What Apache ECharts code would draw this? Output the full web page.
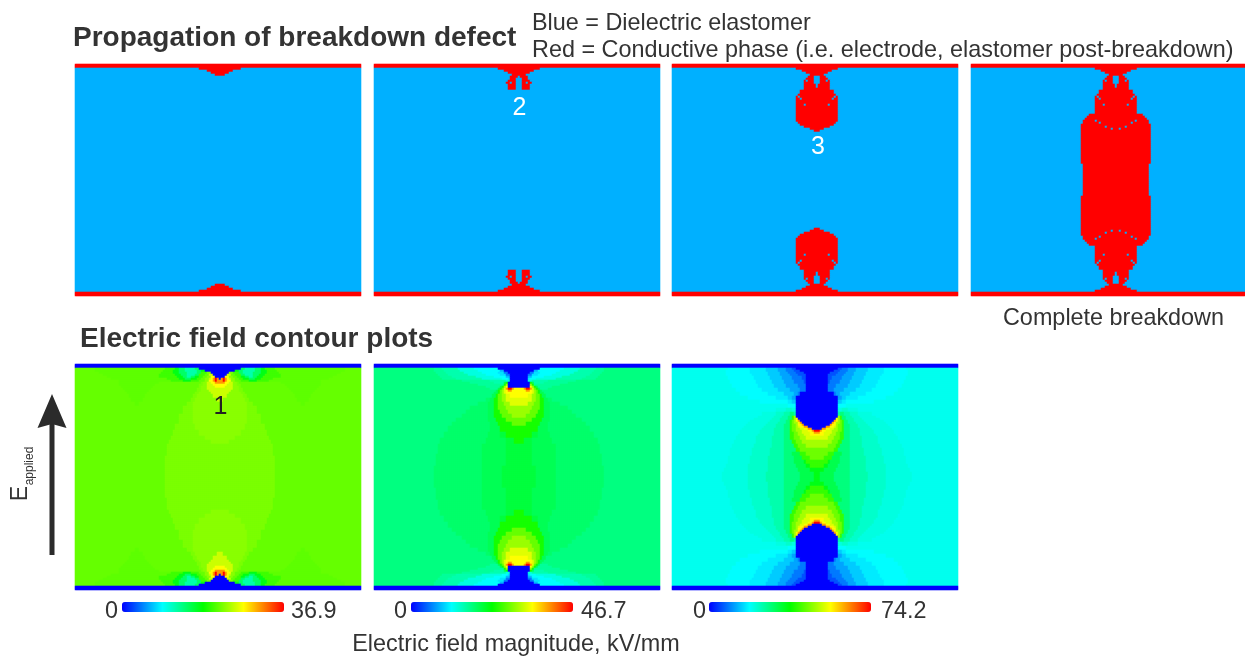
<!DOCTYPE html>
<html><head><meta charset="utf-8">
<style>html,body{margin:0;padding:0;background:#fff}#c{width:1245px;height:657px}</style>
<script src="https://cdn.jsdelivr.net/npm/echarts@6/dist/echarts.min.js"></script>
</head><body><div id="c"></div>
<script>
// ---------- Conductive-phase maps: one half row = [repeat, [fromCell,toCell], ...], cells counted out from the defect axis
const stage1Rows = [[2,[0,99]],[1,[0,10]],[1,[0,6]],[1,[0,4]],[1,[0,2]]];
const stage2Rows = [[2,[0,99]],[1,[0,10]],[1,[0,7]],[1,[0,5]],[1,[0,3]],[1,[1,4]],[1,[2,4]],[1,[2,5]],[1,[2,3],[5,6]],[3,[2,5]]];
const stage3Rows = [[2,[0,99]],[1,[0,10]],[1,[0,7]],[1,[0,5]],[1,[0,3]],[1,[2,4]],[1,[2,5]],[1,[2,4],[6,6]],[1,[2,6]],[2,[1,6]],[1,[0,6]],[2,[0,8]],[1,[0,9]],[1,[0,8],[10,10]],[1,[0,7],[9,10]],[2,[0,10]],[1,[0,5],[7,10]],[8,[0,10]],[1,[0,9]],[1,[0,8]],[1,[0,6]],[1,[0,3]],[1,[0,1]]];
const stage4Rows = [[2,[0,99]],[1,[0,10]],[1,[0,7]],[1,[0,5]],[1,[0,3]],[1,[2,4]],[1,[2,5]],[1,[2,4],[6,6]],[1,[2,6]],[2,[1,6]],[1,[0,6]],[2,[0,8]],[1,[0,9]],[1,[0,8],[10,10]],[1,[0,7],[9,10]],[2,[0,10]],[1,[0,5],[7,10]],[4,[0,10]],[1,[0,13]],[1,[0,14]],[1,[0,15]],[1,[0,9],[11,16]],[1,[0,7],[9,16]],[1,[0,17]],[1,[0,4],[6,17]],[1,[0,1],[3,17]],[17,[0,17]],[8,[0,16]]];

// ---------- Field maps, kV/mm: contour levels, then half rows = [repeat, level,lastCell, level,lastCell, ..., outerLevel]
const field1Levels = [0,12.2,14.8,17.7,20.7,21.8,22.1,22.9,23.4,25.8,27.7,31.4,36.9];
const field1Rows = [
[2,0],
[1,0,10,2,12,1,17,2,20,3,22,4,27,5,62,6],
[1,0,7,3,9,2,11,1,17,2,20,3,23,4,28,5,62,6],
[1,0,4,7,6,4,9,2,11,1,16,2,20,3,23,4,29,5,60,6],
[1,0,3,9,5,6,7,4,10,2,12,1,16,2,19,3,22,4,30,5,58,6],
[1,0,2,10,4,8,6,6,8,4,10,3,12,2,14,1,16,2,18,3,21,4,30,5,56,6],
[1,0,0,11,1,12,2,11,3,10,4,9,5,8,7,6,9,4,11,3,14,2,17,3,20,4,26,5,54,6],
[1,11,1,12,2,11,3,10,5,8,7,6,10,4,14,3,18,4,24,5,50,6],
[1,11,2,10,4,9,6,8,8,7,9,6,30,5,50,6],
[1,10,3,9,6,8,8,7,10,6,32,5,50,6],
[1,10,2,9,6,8,9,7,10,6,33,5,49,6],
[1,9,6,8,9,7,11,6,34,5,48,6],
[1,9,5,8,9,7,11,6,35,5,47,6],
[1,9,4,8,10,7,12,6,36,5,46,6],
[2,9,3,8,11,7,13,6,37,5,45,6],
[2,9,1,8,12,7,14,6,38,5,44,6],
[2,8,13,7,16,6,40,5,42,6],
[4,8,13,7,18,6],
[5,8,13,7,20,6],
[3,8,12,7,22,6],
[3,8,10,7,23,6],
[2,8,7,7,24,6],
[2,8,4,7,25,6],
[6,7,26,6],
[11,7,27,6]];

const field2Levels = [0,5.6,8.4,10.3,11.7,13.1,15.4,16.3,17.5,18.5,19.5,20.5,24.3,28,30.4,33.6,35,39.7,46.7];
const field2Rows = [
[2,0],
[1,0,10,4,22,5,30,6,38,7,42,8],
[1,0,7,2,9,4,20,5,29,6,37,7,42,8],
[1,0,5,1,7,3,10,4,18,5,27,6,36,7,41,8],
[1,0,4,1,6,3,9,4,16,5,25,6,35,7,40,8],
[1,0,4,2,6,4,12,5,21,6,33,7,39,8],
[1,0,4,3,5,4,8,5,18,6,31,7,38,8],
[1,0,4,5,6,6,14,7,28,8],
[1,0,5,12,6,10,7,6,12,7,24,8],
[1,0,5,14,6,12,7,7,20,8],
[1,0,5,16,6,14,7,12,8,10,9,7,16,8],
[1,16,2,17,3,18,5,17,6,15,7,13,8,12,9,10,10,7,14,8],
[1,16,3,17,5,16,6,15,7,14,8,13,9,12,10,10,11,8],
[1,16,6,15,7,14,8,13,9,12,10,10,12,8],
[2,16,4,15,6,14,8,13,10,12,11,10,13,8],
[2,15,6,14,8,13,10,12,12,10,14,9,16,8],
[2,15,4,14,7,13,10,12,12,10,15,9,20,8],
[2,14,6,13,10,12,12,10,15,9,24,8],
[2,14,5,13,9,12,12,10,15,9,26,8],
[2,14,3,13,8,12,12,10,15,9,28,8],
[2,13,6,12,11,10,15,9,31,8],
[2,13,3,12,10,10,14,9,33,8],
[3,12,9,10,14,9,35,8],
[3,12,6,11,9,10,15,9,37,8],
[3,12,2,11,6,10,16,9,39,8],
[5,11,6,10,18,9,40,8],
[6,11,6,10,18,9,41,8],
[6,11,8,10,18,9,42,8]];

const field3Levels = [0,5.9,8.9,11.9,14.8,17.1,18.5,19.7,20.7,22.3,24.5,28,31.5,35.5,41,45,49,53,56,63,74.2];
const field3Rows = [
[2,0],
[1,0,10,1,12,2,15,3,19,4,25,5,33,6,44,7],
[1,0,8,1,11,2,15,3,19,4,25,5,33,6,45,7],
[1,0,6,1,10,2,14,3,18,4,24,5,33,6,45,7],
[1,0,5,1,9,2,13,3,18,4,24,5,32,6,45,7],
[2,0,5,1,7,2,12,3,17,4,23,5,31,6,44,7],
[2,0,5,1,6,2,11,3,16,4,22,5,30,6,43,7],
[2,0,5,2,9,3,15,4,21,5,29,6,42,7],
[2,0,5,2,8,3,13,4,19,5,27,6,40,7],
[2,0,8,2,9,3,11,4,16,5,24,6,38,7],
[2,0,10,3,12,4,14,5,20,6,34,7],
[2,0,10,4,12,5,14,6,28,7],
[2,0,10,6,14,7],
[2,0,10,8,12,9,15,8,20,7],
[2,0,10,10,11,11,13,10,16,9,20,8,27,7],
[1,0,10,16,11,14,12,11,14,10,17,9,21,8,29,7],
[1,0,9,18,10,16,11,14,12,11,14,10,18,9,22,8,31,7],
[1,0,8,19,9,18,10,16,11,15,12,14,13,11,15,10,18,9,23,8,33,7],
[1,0,7,19,8,18,9,16,11,15,12,14,13,11,15,10,19,9,24,8,34,7],
[1,0,6,19,7,18,9,16,10,15,12,14,13,11,16,10,20,9,25,8,35,7],
[1,0,4,19,6,18,8,17,9,16,10,15,12,14,13,11,16,10,20,9,26,8,36,7],
[1,0,2,19,4,18,6,17,8,16,10,15,12,14,13,11,16,10,21,9,27,8,37,7],
[1,20,1,19,2,18,4,17,7,16,10,15,12,14,13,11,16,10,21,9,28,8,38,7],
[1,19,1,18,3,17,7,16,9,15,11,14,13,11,16,10,21,9,28,8,38,7],
[1,18,3,17,6,16,9,15,11,14,13,11,16,10,21,9,29,8,39,7],
[2,17,5,16,8,15,11,14,13,11,16,10,22,9,30,8,40,7],
[2,16,7,15,10,14,12,11,16,10,22,9,30,8,41,7],
[2,16,5,15,9,14,11,11,16,10,22,9,31,8,42,7],
[2,15,8,14,10,11,16,10,23,9,32,8,43,7],
[2,15,5,14,8,12,12,11,16,10,23,9,32,8,43,7],
[2,15,3,14,7,12,11,11,16,10,24,9,33,8,44,7],
[2,14,5,13,6,12,11,11,16,10,24,9,33,8,44,7],
[2,14,3,13,5,12,10,11,16,10,24,9,34,8,45,7],
[2,13,3,12,9,11,16,10,24,9,34,8,46,7],
[3,13,1,12,8,11,16,10,25,9,34,8,47,7]];

// ---------- Labels
const fieldMaxima = [36.9,46.7,74.2];
const fieldMinLabel = '0';
const fieldScaleColours = ['#0000ff','#00ffff','#00ff00','#ffff00','#ff0000'];
const phaseColours = ['#00b0ff','#ff0000'];

// ---------- Layout
const CELL=2, AXIS_CELL=72;
const phasePanels=[
 {rows:stage1Rows,left:75,cols:143},{rows:stage2Rows,left:374,cols:143},
 {rows:stage3Rows,left:672,cols:143},{rows:stage4Rows,left:971,cols:137}];
const fieldPanels=[
 {rows:field1Rows,levels:field1Levels,left:75,bar:122,zeroX:105,maxX:291},
 {rows:field2Rows,levels:field2Levels,left:374,bar:411,zeroX:394,maxX:581},
 {rows:field3Rows,levels:field3Levels,left:672,bar:709,zeroX:693,maxX:881}];

function expandHalf(rows,count){const out=[];rows.forEach(r=>{for(let i=0;i<r[0];i++)out.push(r);});
 while(out.length<count)out.push(null);return out.slice(0,count);}
function phaseData(rows,cols,height){
 const half=expandHalf(rows,Math.ceil(height/2)),d=[];
 for(let y=0;y<height;y++){const r=half[y<half.length?y:height-1-y];
  for(let x=0;x<cols;x++){const dx=Math.abs(x-AXIS_CELL);let v=0;
   if(r)for(let s=1;s<r.length;s++)if(dx>=r[s][0]&&dx<=r[s][1])v=1;
   d.push([x,y,v]);}}
 return d;}
function fieldData(rows,levels,cols,height){
 const half=expandHalf(rows,Math.ceil(height/2)),d=[];
 for(let y=0;y<height;y++){const r=half[y<half.length?y:height-1-y];
  for(let x=0;x<cols;x++){const dx=Math.abs(x-AXIS_CELL);let i=1;
   while(i+1<r.length&&dx>r[i+1])i+=2;
   d.push([x,y,levels[r[i]]]);}}
 return d;}
const range=n=>Array.from({length:n},(_,i)=>i);

const grid=[],xAxis=[],yAxis=[],series=[],visualMap=[];
function addPanel(left,top,cols,rowsN,data){
 const i=grid.length;
 grid.push({left,top,width:cols*CELL,height:rowsN*CELL,containLabel:false});
 xAxis.push({type:'category',gridIndex:i,data:range(cols),show:false});
 yAxis.push({type:'category',gridIndex:i,data:range(rowsN),inverse:true,show:false});
 series.push({type:'heatmap',xAxisIndex:i,yAxisIndex:i,data,progressive:0,silent:true,emphasis:{disabled:true},itemStyle:{borderWidth:0}});
 return i;}
const phaseIdx=phasePanels.map(p=>addPanel(p.left,64,p.cols,116,phaseData(p.rows,p.cols,116)));
visualMap.push({show:false,type:'continuous',min:0,max:1,seriesIndex:phaseIdx,dimension:2,inRange:{color:phaseColours}});
fieldPanels.forEach((p,k)=>{
 const i=addPanel(p.left,364,143,113,fieldData(p.rows,p.levels,143,113));
 visualMap.push({type:'continuous',orient:'horizontal',min:0,max:fieldMaxima[k],seriesIndex:i,dimension:2,
  calculable:false,realtime:false,hoverLink:false,inRange:{color:fieldScaleColours},
  itemWidth:10,itemHeight:162,text:null,padding:0,left:p.bar,top:602});
});

const txt=(x,y,text,o)=>({type:'text',x,y,silent:true,zlevel:5,style:Object.assign({text,fill:'#333',fontFamily:'Liberation Sans',fontSize:23.4,textVerticalAlign:'middle'},o||{})});
const graphic=[
 txt(73,38,'Propagation of breakdown defect',{fontWeight:'bold',fontSize:28}),
 txt(532,24,'Blue = Dielectric elastomer'),
 txt(532,51,'Red = Conductive phase (i.e. electrode, elastomer post-breakdown)'),
 txt(1113.5,319,'Complete breakdown',{textAlign:'center'}),
 txt(80,339,'Electric field contour plots',{fontWeight:'bold',fontSize:28}),
 txt(519.5,108,'2',{fill:'#fff',textAlign:'center',fontSize:25}),
 txt(818,147.5,'3',{fill:'#fff',textAlign:'center',fontSize:25}),
 txt(220.5,407,'1',{fill:'#222',textAlign:'center',fontSize:25}),
 txt(516,645,'Electric field magnitude, kV/mm',{textAlign:'center'}),
 {type:'text',x:20.5,y:493.5,rotation:Math.PI/2,silent:true,zlevel:5,style:{text:'E',fill:'#333',fontFamily:'Liberation Sans',fontSize:23,textAlign:'center',textVerticalAlign:'middle'}},
 {type:'text',x:30,y:466,rotation:Math.PI/2,silent:true,zlevel:5,style:{text:'applied',fill:'#333',fontFamily:'Liberation Sans',fontSize:12,textAlign:'center',textVerticalAlign:'middle'}},
 {type:'line',silent:true,shape:{x1:52,y1:555,x2:52,y2:420},style:{stroke:'#2b2b2b',lineWidth:5}},
 {type:'polygon',silent:true,shape:{points:[[52,394],[66.5,428],[52,424],[37.5,428]]},style:{fill:'#2b2b2b'}}
];
fieldPanels.forEach((p,k)=>{
 graphic.push(txt(p.zeroX,612,fieldMinLabel),txt(p.maxX,612,String(fieldMaxima[k])));
});

const chart=echarts.init(document.getElementById('c'),null,{renderer:'canvas',width:1245,height:657});
chart.setOption({animation:false,backgroundColor:'#fff',tooltip:{show:false},grid,xAxis,yAxis,series,visualMap,graphic});
</script></body></html>
